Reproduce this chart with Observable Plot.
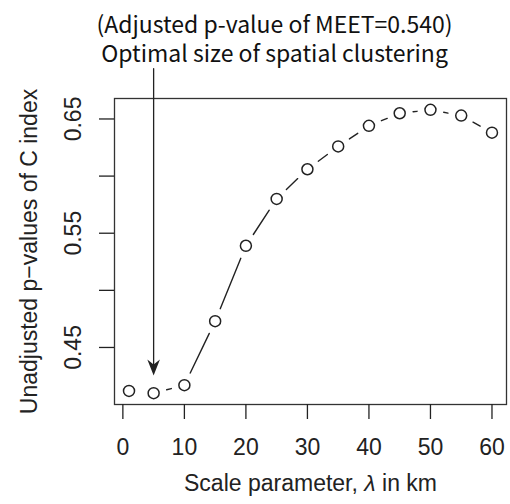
<!DOCTYPE html>
<html>
<head>
<meta charset="utf-8">
<script src="https://cdn.jsdelivr.net/npm/d3@7"></script>
<script src="https://cdn.jsdelivr.net/npm/@observablehq/plot@0.6"></script>
<style>
  html, body { margin: 0; padding: 0; background: white; }
</style>
</head>
<body>
<div id="chart"></div>
<script>
// ---- data ----
const lambdaKm = [1, 5, 10, 15, 20, 25, 30, 35, 40, 45, 50, 55, 60];
const pValues = [0.412, 0.410, 0.417, 0.473, 0.539, 0.580, 0.606, 0.626, 0.644, 0.655, 0.658, 0.653, 0.638];
const xTickValues = [0, 10, 20, 30, 40, 50, 60];
const yTickValues = [0.45, 0.50, 0.55, 0.60, 0.65];
const yLabelValues = [0.45, 0.55, 0.65];
const titleLines = ["(Adjusted p-value of MEET=0.540)", "Optimal size of spatial clustering"];
const xLabel = "Scale parameter, λ in km";
const yLabel = "Unadjusted p\u2212values of C index";
const optimalLambda = [5];
const arrowFrom = [0.694];
const arrowTo = [0.4255];

// ---- derived ----
const points = lambdaKm.map((x, i) => ({x, y: pValues[i]}));
const segs = d3.pairs(points);
const arrowData = optimalLambda.map((x, i) => ({x, top: arrowFrom[i], tip: arrowTo[i]}));
const xe = d3.extent(lambdaKm), ye = d3.extent(pValues);
const xpad = (xe[1] - xe[0]) * 0.04, ypad = (ye[1] - ye[0]) * 0.04;

const ink = "#222";
const sans = "Liberation Sans";
const headSymbol = {
  draw(ctx) {
    ctx.moveTo(0, 0);
    ctx.lineTo(-6.3, -16);
    ctx.lineTo(0, -11);
    ctx.lineTo(6.3, -16);
    ctx.closePath();
  }
};

const chart = Plot.plot({
  width: 510,
  height: 504,
  marginLeft: 114,
  marginRight: 4,
  marginTop: 98,
  marginBottom: 100,
  style: {fontFamily: sans, fontSize: "23px", color: ink, background: "white"},
  x: {domain: [xe[0] - xpad, xe[1] + xpad]},
  y: {domain: [ye[0] - ypad, ye[1] + ypad]},
  marks: [
    Plot.frame({stroke: "#333", strokeWidth: 1.3}),
    Plot.axisX({ticks: xTickValues, tickSize: 15, tickPadding: 19, label: null, strokeWidth: 1.3, fontSize: 23, fontFamily: sans}),
    Plot.axisY({ticks: yTickValues, tickSize: 15, tickFormat: () => "", label: null, strokeWidth: 1.3}),
    Plot.text(yLabelValues, {y: d => d, text: d => d.toFixed(2), frameAnchor: "left", dx: -34, rotate: -90, lineAnchor: "bottom", textAnchor: "middle", fontSize: 23, fontFamily: sans, fill: ink}),
    Plot.arrow(segs, {x1: d => d[0].x, y1: d => d[0].y, x2: d => d[1].x, y2: d => d[1].y, inset: 13.5, headLength: 0, stroke: ink, strokeWidth: 1.4}),
    Plot.dot(points, {x: "x", y: "y", r: 5.5, stroke: ink, strokeWidth: 1.5, fill: "none"}),
    Plot.arrow(arrowData, {x1: "x", x2: "x", y1: "top", y2: "tip", headLength: 0, insetEnd: 6, stroke: ink, strokeWidth: 1.3}),
    Plot.dot(arrowData, {x: "x", y: "tip", symbol: headSymbol, fill: ink, stroke: "none"}),
    Plot.text([xLabel], {frameAnchor: "bottom", dy: 86, lineAnchor: "bottom", textAnchor: "middle", fontSize: 23, fontFamily: sans, fill: ink}),
    Plot.text([yLabel], {frameAnchor: "left", dx: -78, rotate: -90, lineAnchor: "bottom", textAnchor: "middle", fontSize: 23, fontFamily: sans, fill: ink}),
    Plot.text([titleLines.join("\n")], {frameAnchor: "top", dx: -36, dy: -37, lineAnchor: "bottom", textAnchor: "middle", lineHeight: 1.22, fontSize: 23, fontFamily: "Noto Sans CJK JP", fill: "#111"})
  ]
});

document.getElementById("chart").appendChild(chart);

// italic lambda in x label
d3.select(chart).selectAll("text").each(function() {
  const t = this.textContent;
  if (t === xLabel) {
    const parts = t.split("λ");
    const sel = d3.select(this);
    sel.text(null);
    sel.append("tspan").text(parts[0]);
    sel.append("tspan").attr("font-style", "italic").text("λ");
    sel.append("tspan").text(parts[1]);
  }
});
</script>
</body>
</html>
